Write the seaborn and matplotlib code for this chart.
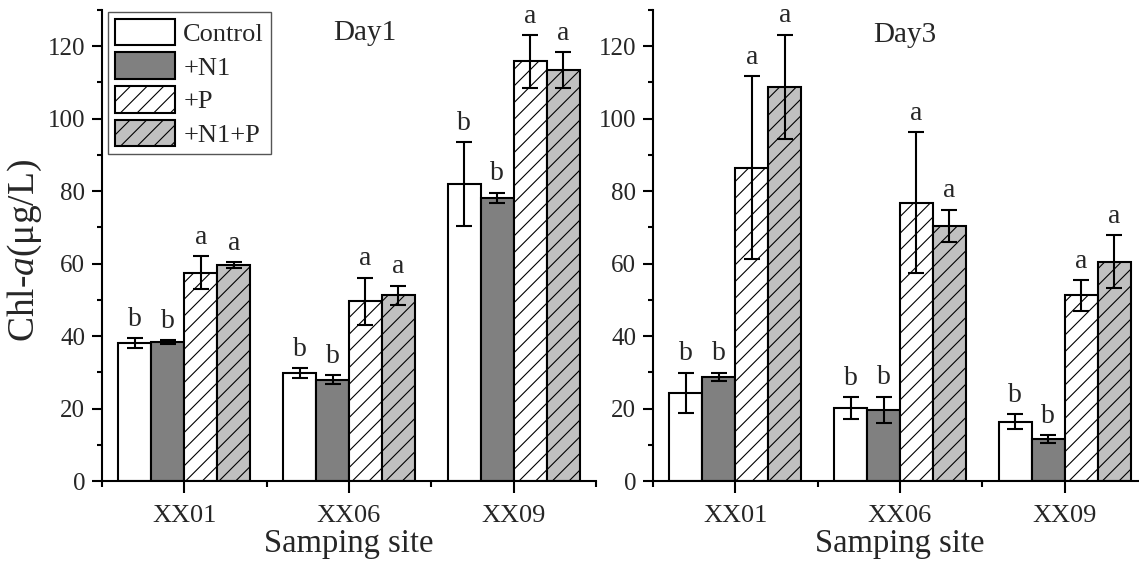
import matplotlib
matplotlib.use("Agg")
import matplotlib.pyplot as plt
from matplotlib.ticker import FixedLocator, MultipleLocator
from matplotlib.container import BarContainer
import seaborn as sns
import pandas as pd

# ---------------- data ----------------
sites = ["XX01", "XX06", "XX09"]
treatments = ["Control", "+N1", "+P", "+N1+P"]

day1_control = [38.0, 29.7, 82.0]
day1_control_err = [1.4, 1.4, 11.5]
day1_n1 = [38.4, 28.0, 78.2]
day1_n1_err = [0.5, 1.3, 1.4]
day1_p = [57.5, 49.6, 115.8]
day1_p_err = [4.6, 6.5, 7.2]
day1_n1p = [59.7, 51.2, 113.5]
day1_n1p_err = [0.8, 2.7, 4.9]

day3_control = [24.4, 20.1, 16.4]
day3_control_err = [5.5, 3.1, 2.0]
day3_n1 = [28.8, 19.6, 11.5]
day3_n1_err = [1.1, 3.7, 1.1]
day3_p = [86.5, 76.8, 51.2]
day3_p_err = [25.3, 19.5, 4.2]
day3_n1p = [108.8, 70.5, 60.5]
day3_n1p_err = [14.4, 4.4, 7.3]

day1_letters = [["b", "b", "b"], ["b", "b", "b"], ["a", "a", "a"], ["a", "a", "a"]]
day3_letters = [["b", "b", "b"], ["b", "b", "b"], ["a", "a", "a"], ["a", "a", "a"]]

panel_titles = ["Day1", "Day3"]
x_label = "Samping site"
y_label = r"Chl-$\mathit{a}$(μg/L)"

# ---------------- style ----------------
sns.set_style("ticks")
plt.rcParams["font.family"] = ["Liberation Serif", "DejaVu Serif"]
plt.rcParams["mathtext.fontset"] = "custom"
plt.rcParams["mathtext.rm"] = "Liberation Serif"
plt.rcParams["mathtext.it"] = "Liberation Serif:italic"
plt.rcParams["hatch.linewidth"] = 0.8
plt.rcParams["hatch.color"] = "#333333"

fill_colors = ["#ffffff", "#808080", "#ffffff", "#c0c0c0"]
hatches = ["", "", "//", "//"]

W, H = 1139, 566
fig = plt.figure(figsize=(W / 100, H / 100), dpi=100)

ax_left_px = [102, 653]
ax_w_px = 494
ax_top_px, ax_bot_px = 10, 481


def make_df(vals):
    rows = []
    for t, series in zip(treatments, vals):
        for s, v in zip(sites, series):
            rows.append({"site": s, "treatment": t, "value": v})
    return pd.DataFrame(rows)


panels = [
    ([day1_control, day1_n1, day1_p, day1_n1p],
     [day1_control_err, day1_n1_err, day1_p_err, day1_n1p_err], day1_letters),
    ([day3_control, day3_n1, day3_p, day3_n1p],
     [day3_control_err, day3_n1_err, day3_p_err, day3_n1p_err], day3_letters),
]
title_pos = [(0.532, 0.951), (0.51, 0.947)]

axes = []
bar_conts = []
for pi, (vals, errs, letters) in enumerate(panels):
    ax = fig.add_axes([ax_left_px[pi] / W, (H - ax_bot_px) / H,
                       ax_w_px / W, (ax_bot_px - ax_top_px) / H])
    axes.append(ax)
    df = make_df(vals)
    sns.barplot(data=df, x="site", y="value", hue="treatment",
                order=sites, hue_order=treatments,
                palette=fill_colors, saturation=1, errorbar=None,
                edgecolor="black", linewidth=1.5, ax=ax, legend=False)
    conts = [c for c in ax.containers if isinstance(c, BarContainer)]
    bar_conts.append(conts)
    for ci, cont in enumerate(conts):
        for bi, bar in enumerate(cont.patches):
            bar.set_hatch(hatches[ci])
            xc = bar.get_x() + bar.get_width() / 2
            hgt = bar.get_height()
            e = errs[ci][bi]
            ax.errorbar(xc, hgt, yerr=e, color="black", elinewidth=1.5,
                        capsize=5.8, capthick=1.5, fmt="none", zorder=5)
            ax.annotate(letters[ci][bi], (xc, hgt + e), xytext=(0, 4.5),
                        textcoords="offset points", ha="center", va="bottom",
                        fontsize=20)
    ax.set_xlim(-0.5, 2.5)
    ax.set_ylim(0, 130)
    ax.yaxis.set_major_locator(MultipleLocator(20))
    ax.yaxis.set_minor_locator(MultipleLocator(10))
    ax.xaxis.set_minor_locator(FixedLocator([-0.5, 0.5, 1.5, 2.5]))
    ax.tick_params(axis="y", which="major", length=7.2, width=1.5,
                   direction="out", labelsize=18, pad=5, color="black")
    ax.tick_params(axis="y", which="minor", length=3.6, width=1.5,
                   direction="out", color="black")
    ax.tick_params(axis="x", which="major", length=8.6, width=1.5,
                   direction="out", labelsize=19, pad=8.5, color="black")
    ax.tick_params(axis="x", which="minor", length=4.3, width=1.5,
                   direction="out", color="black")
    for sp in ["top", "right"]:
        ax.spines[sp].set_visible(False)
    for sp in ["left", "bottom"]:
        ax.spines[sp].set_linewidth(1.5)
        ax.spines[sp].set_color("black")
    ax.set_xlabel(x_label, fontsize=23.5, labelpad=1)
    ax.set_ylabel("")
    ax.text(title_pos[pi][0], title_pos[pi][1], panel_titles[pi],
            transform=ax.transAxes, ha="center", va="center", fontsize=21)
    ax.patch.set_alpha(0)

axes[0].set_ylabel(y_label, fontsize=27)
axes[0].yaxis.set_label_coords(-0.118, 0.49)

leg = axes[0].legend(handles=bar_conts[0], labels=treatments,
                     loc="upper left", bbox_to_anchor=(108 / W, 1 - 12 / H),
                     bbox_transform=fig.transFigure, borderaxespad=0,
                     fontsize=19, handlelength=2.3, handleheight=1.15,
                     labelspacing=0.26, handletextpad=0.3, borderpad=0.25,
                     fancybox=False, framealpha=1)
leg.get_frame().set_edgecolor("#555555")
leg.get_frame().set_linewidth(1.0)

fig.savefig("out.png", dpi=100)
